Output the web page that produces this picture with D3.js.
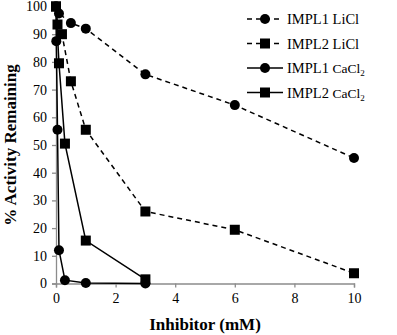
<!DOCTYPE html>
<html>
<head>
<meta charset="utf-8">
<script src="https://cdn.jsdelivr.net/npm/d3@7"></script>
<style>
  body { margin: 0; background: #fff; }
  text { font-family: "Liberation Serif", "DejaVu Serif", serif; }
</style>
</head>
<body>
<svg></svg>
<script>
// Data: % activity remaining vs inhibitor concentration (mM)
const impl1LiClX = [0, 0.1, 0.5, 1, 3, 6, 10];
const impl1LiClY = [100, 97.5, 94, 92, 75.5, 64.4, 45.3];
const impl2LiClX = [0, 0.05, 0.2, 0.5, 1, 3, 6, 10];
const impl2LiClY = [100, 93.5, 90, 73, 55.5, 26, 19.4, 3.7];
const impl1CaClX = [0, 0.01, 0.05, 0.1, 0.3, 1, 3];
const impl1CaClY = [100, 87.5, 55.5, 12, 1.2, 0.2, 0];
const impl2CaClX = [0, 0.1, 0.3, 1, 3];
const impl2CaClY = [100, 79.5, 50.5, 15.5, 1.5];
const xTicks = [0, 2, 4, 6, 8, 10];
const yTicks = [0, 10, 20, 30, 40, 50, 60, 70, 80, 90, 100];

const series = [
    { name: "IMPL1", salt: "LiCl", xs: impl1LiClX, ys: impl1LiClY, shape: "circle", dashed: true },
    { name: "IMPL2", salt: "LiCl", xs: impl2LiClX, ys: impl2LiClY, shape: "square", dashed: true },
    { name: "IMPL1", salt: "CaCl2", xs: impl1CaClX, ys: impl1CaClY, shape: "circle", dashed: false },
    { name: "IMPL2", salt: "CaCl2", xs: impl2CaClX, ys: impl2CaClY, shape: "square", dashed: false }
];

const W = 397, H = 335;
const svg = d3.select("svg").attr("width", W).attr("height", H);

const x = d3.scaleLinear().domain([0, 10]).range([56, 354]);
const y = d3.scaleLinear().domain([0, 100]).range([283.5, 6.5]);

// Axes (gray lines, outward ticks)
const xAxis = svg.append("g")
    .attr("transform", `translate(0,${y(0)})`)
    .call(d3.axisBottom(x).tickValues(xTicks).tickSize(4).tickPadding(6));
const yAxis = svg.append("g")
    .attr("transform", `translate(${x(0)},0)`)
    .call(d3.axisLeft(y).tickValues(yTicks).tickSize(4).tickPadding(5));
[xAxis, yAxis].forEach(a => {
    a.selectAll("path, line").attr("stroke", "#8c8c8c").attr("stroke-width", 1.3);
    a.selectAll("text").attr("font-size", 14).attr("fill", "#000")
        .attr("font-family", "Liberation Serif, serif");
});

// Lines and markers
const line = d3.line().x(d => x(d[0])).y(d => y(d[1]));

function marker(g, shape, cx, cy) {
    if (shape === "circle") {
        g.append("circle").attr("cx", cx).attr("cy", cy).attr("r", 5).attr("fill", "#000");
    } else {
        g.append("rect").attr("x", cx - 5).attr("y", cy - 5).attr("width", 10).attr("height", 10).attr("fill", "#000");
    }
}

series.forEach(s => {
    const pts = s.xs.map((v, i) => [v, s.ys[i]]);
    svg.append("path")
        .attr("d", line(pts))
        .attr("fill", "none")
        .attr("stroke", "#000")
        .attr("stroke-width", 1.5)
        .attr("stroke-dasharray", s.dashed ? "5,4" : null);
    const g = svg.append("g");
    pts.forEach(p => marker(g, s.shape, x(p[0]), y(p[1])));
});

// Legend
const legend = svg.append("g").attr("transform", "translate(247,19)");
series.forEach((s, i) => {
    const row = legend.append("g").attr("transform", `translate(0,${i * 24.5})`);
    row.append("line").attr("x1", 0).attr("x2", 36).attr("y1", 0).attr("y2", 0)
        .attr("stroke", "#000").attr("stroke-width", 1.5)
        .attr("stroke-dasharray", s.dashed ? "5,4" : null);
    marker(row, s.shape, 18, 0);
    const t = row.append("text").attr("x", 40).attr("y", 5).attr("font-size", 14.5);
    t.append("tspan").text(s.name + " ");
    if (s.salt === "LiCl") {
        t.append("tspan").text("LiCl");
    } else {
        t.append("tspan").attr("font-size", 13.5).text("CaCl");
        t.append("tspan").attr("font-size", 9).attr("dy", 3).text("2");
    }
});

// Axis titles
svg.append("text")
    .attr("x", 205).attr("y", 330)
    .attr("text-anchor", "middle")
    .attr("font-size", 17).attr("font-weight", "bold")
    .text("Inhibitor (mM)");
svg.append("text")
    .attr("transform", "translate(16,145) rotate(-90)")
    .attr("text-anchor", "middle")
    .attr("font-size", 17).attr("font-weight", "bold")
    .text("% Activity Remaining");
</script>
</body>
</html>
